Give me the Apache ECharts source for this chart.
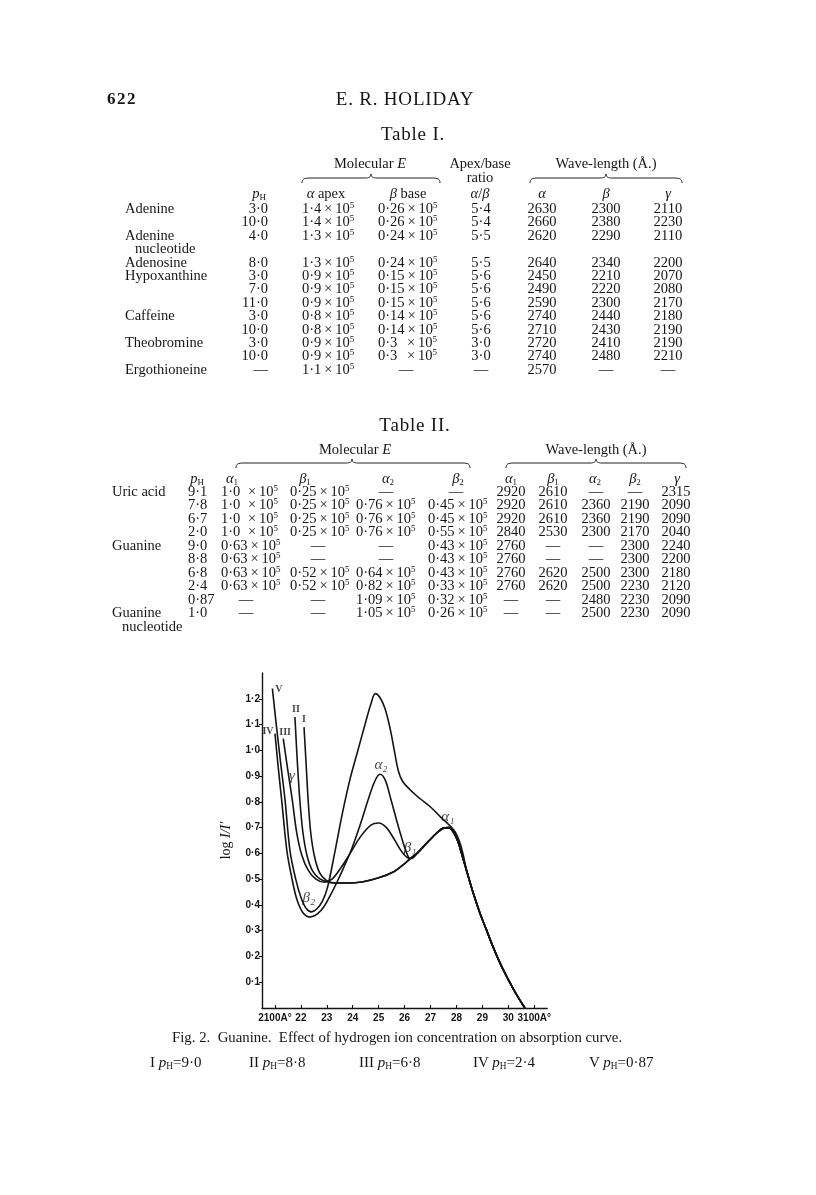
<!DOCTYPE html>
<html><head><meta charset="utf-8">
<script src="https://cdn.jsdelivr.net/npm/echarts@6.0.0/dist/echarts.min.js"></script>
<style>
html,body{margin:0;padding:0;background:#fff;}
#page{position:relative;width:816px;height:1195px;overflow:hidden;font-family:"Liberation Serif","Times New Roman",serif;color:#161616;}
#chart{position:absolute;left:0;top:0;width:816px;height:1195px;}
.t{position:absolute;white-space:nowrap;line-height:1;font-size:14.5px;}
.t sub{font-size:0.62em;vertical-align:-0.3em;line-height:0;font-style:normal;}
.t sup{font-size:0.62em;vertical-align:0.55em;line-height:0;}
.m{display:inline-block;}
svg.br{position:absolute;left:0;top:0;overflow:visible;}
</style></head>
<body><div id="page"><div id="chart"></div></div>
<script>
// ---------------- DATA ----------------
// Table I
const t1Rows = [
  ['Adenine','3·0','1·4','0·26','5·4','2630','2300','2110'],
  ['','10·0','1·4','0·26','5·4','2660','2380','2230'],
  ['Adenine','4·0','1·3','0·24','5·5','2620','2290','2110'],
  [' nucleotide'],
  ['Adenosine','8·0','1·3','0·24','5·5','2640','2340','2200'],
  ['Hypoxanthine','3·0','0·9','0·15','5·6','2450','2210','2070'],
  ['','7·0','0·9','0·15','5·6','2490','2220','2080'],
  ['','11·0','0·9','0·15','5·6','2590','2300','2170'],
  ['Caffeine','3·0','0·8','0·14','5·6','2740','2440','2180'],
  ['','10·0','0·8','0·14','5·6','2710','2430','2190'],
  ['Theobromine','3·0','0·9','0·3','3·0','2720','2410','2190'],
  ['','10·0','0·9','0·3','3·0','2740','2480','2210'],
  ['Ergothioneine','—','1·1','—','—','2570','—','—']
];
// Table II
const t2Rows = [
  ['Uric acid','9·1','1·0','0·25','—','—','2920','2610','—','—','2315'],
  ['','7·8','1·0','0·25','0·76','0·45','2920','2610','2360','2190','2090'],
  ['','6·7','1·0','0·25','0·76','0·45','2920','2610','2360','2190','2090'],
  ['','2·0','1·0','0·25','0·76','0·55','2840','2530','2300','2170','2040'],
  ['Guanine','9·0','0·63','—','—','0·43','2760','—','—','2300','2240'],
  ['','8·8','0·63','—','—','0·43','2760','—','—','2300','2200'],
  ['','6·8','0·63','0·52','0·64','0·43','2760','2620','2500','2300','2180'],
  ['','2·4','0·63','0·52','0·82','0·33','2760','2620','2500','2230','2120'],
  ['','0·87','—','—','1·09','0·32','—','—','2480','2230','2090'],
  ['Guanine','1·0','—','—','1·05','0·26','—','—','2500','2230','2090'],
  [' nucleotide']
];
// Figure axes
const xTickValues = [2100,2200,2300,2400,2500,2600,2700,2800,2900,3000,3100];
const xTickLabels = ['2100A°','22','23','24','25','26','27','28','29','30','3100A°'];
const yTickValues = [0.1,0.2,0.3,0.4,0.5,0.6,0.7,0.8,0.9,1.0,1.1,1.2];
const yTickLabels = ['0·1','0·2','0·3','0·4','0·5','0·6','0·7','0·8','0·9','1·0','1·1','1·2'];
// Figure curves: [wave-length (Å), log I/I']
const curveI_pH9_0 = [[2212,1.09],[2220,0.95],[2228,0.806],[2238,0.68],[2252,0.59],[2272,0.525],[2298,0.495],[2330,0.485],[2380,0.485],[2440,0.49],[2500,0.505],[2560,0.53],[2600,0.56],[2625,0.583]];
const curveII_pH8_8 = [[2177,1.129],[2186,0.96],[2196,0.806],[2208,0.68],[2224,0.59],[2246,0.53],[2272,0.502],[2300,0.49],[2330,0.485],[2380,0.485],[2440,0.49],[2500,0.505],[2560,0.53],[2600,0.56],[2625,0.583]];
const curveIII_pH6_8 = [[2132,1.045],[2150,0.92],[2167,0.806],[2184,0.68],[2203,0.595],[2228,0.535],[2258,0.5],[2290,0.488],[2320,0.5],[2355,0.545],[2390,0.6],[2430,0.665],[2470,0.71],[2500,0.718],[2530,0.7],[2560,0.655],[2590,0.605],[2612,0.583],[2625,0.58]];
const curveIV_pH2_4 = [[2100,1.065],[2113,0.93],[2126,0.806],[2146,0.61],[2166,0.5],[2185,0.42],[2208,0.37],[2236,0.353],[2264,0.365],[2290,0.395],[2315,0.44],[2340,0.49],[2365,0.545],[2395,0.615],[2430,0.715],[2460,0.81],[2485,0.88],[2505,0.907],[2525,0.885],[2547,0.81],[2580,0.69],[2605,0.61],[2622,0.58]];
const curveV_pH0_87 = [[2090,1.24],[2105,1.1],[2122,0.95],[2139,0.806],[2158,0.61],[2180,0.5],[2200,0.43],[2220,0.387],[2241,0.373],[2262,0.385],[2283,0.415],[2302,0.465],[2330,0.6],[2360,0.755],[2390,0.89],[2420,1.0],[2450,1.11],[2470,1.18],[2487,1.22],[2505,1.205],[2525,1.16],[2545,1.08],[2562,0.99],[2576,0.92],[2592,0.88],[2620,0.848],[2660,0.812],[2700,0.78],[2740,0.74],[2770,0.712],[2795,0.683],[2812,0.645],[2826,0.595]];
const betaToAlphaCommon = [[2650,0.602],[2690,0.645],[2725,0.68],[2750,0.698],[2770,0.7],[2790,0.68],[2806,0.645],[2822,0.592]];
const tailCommon = [[2840,0.53],[2865,0.445],[2890,0.37],[2915,0.305],[2940,0.24],[2970,0.17],[3000,0.11],[3030,0.055],[3064,0]];
const curveLabels = [
  {text:'V', at:[2115,1.238], kind:'roman'},
  {text:'IV', at:[2073,1.075], kind:'roman'},
  {text:'III', at:[2139,1.071], kind:'roman'},
  {text:'II', at:[2181,1.157], kind:'roman'},
  {text:'I', at:[2212,1.118], kind:'roman'},
  {text:'γ', at:[2166,0.90], kind:'greek'},
  {text:'α₂', at:[2509,0.943], kind:'greek'},
  {text:'β₁', at:[2621,0.62], kind:'greek'},
  {text:'α₁', at:[2767,0.74], kind:'greek'},
  {text:'β₂', at:[2231,0.427], kind:'greek'}
];
const legendItems = [['I','9·0'],['II','8·8'],['III','6·8'],['IV','2·4'],['V','0·87']];

// ---------------- TEXT LAYOUT ----------------
const page = document.getElementById('page');
function put(html, x, y, align, css){
  const d = document.createElement('div');
  d.className = 't';
  d.innerHTML = html;
  d.style.left = x + 'px';
  d.style.top = y + 'px';
  const tx = align === 'c' ? '-50%' : (align === 'r' ? '-100%' : '0');
  d.style.transform = 'translate(' + tx + ',-50%)';
  if (css) d.style.cssText += ';' + css;
  page.appendChild(d);
  return d;
}
const PH = '<i>p</i><sub>H</sub>';
function sci(m, w){
  if (m === '—') return null;
  return '<span class="m" style="min-width:' + w + 'px">' + m + '</span>&thinsp;×&thinsp;10<sup>5</sup>';
}
const svgNS = 'http://www.w3.org/2000/svg';
const svg = document.createElementNS(svgNS, 'svg');
svg.setAttribute('class','br'); svg.setAttribute('width','816'); svg.setAttribute('height','1195');
page.appendChild(svg);
function brace(x1, x2, xm, y){
  const p = document.createElementNS(svgNS, 'path');
  const d = `M${x1},${y+5} C${x1},${y+1} ${x1+2},${y} ${x1+8},${y} L${xm-6},${y} C${xm-2},${y} ${xm},${y-1} ${xm},${y-4} C${xm},${y-1} ${xm+2},${y} ${xm+6},${y} L${x2-8},${y} C${x2-2},${y} ${x2},${y+1} ${x2},${y+5}`;
  p.setAttribute('d', d); p.setAttribute('fill','none'); p.setAttribute('stroke','#222'); p.setAttribute('stroke-width','1');
  svg.appendChild(p);
}

// page header
put('622', 107, 98, 'l', 'font-size:17px;font-weight:bold;letter-spacing:1.5px');
put('E. R. HOLIDAY', 405, 98, 'c', 'font-size:19px;letter-spacing:0.8px');

// Table I
put('Table I.', 413, 133, 'c', 'font-size:19px;letter-spacing:0.8px');
put('Molecular <i>E</i>', 370, 163, 'c');
brace(302, 440, 371, 178);
put('Apex/base', 480, 163, 'c');
put('ratio', 480, 177, 'c');
put('Wave-length (Å.)', 606, 163, 'c');
brace(530, 682, 606, 178);
put(PH, 259, 193, 'c');
put('<i>α</i> apex', 326, 193, 'c');
put('<i>β</i> base', 408, 193, 'c');
put('<i>α</i>/<i>β</i>', 480, 193, 'c');
put('<i>α</i>', 542, 193, 'c');
put('<i>β</i>', 606, 193, 'c');
put('<i>γ</i>', 668, 193, 'c');
t1Rows.forEach((r, i) => {
  const y = 208 + i * 13.4;
  if (r[0]) put(r[0].trim(), r[0].startsWith(' ') ? 135 : 125, y, 'l');
  if (r.length < 2) return;
  put(r[1], 268, y, 'r');
  const a = sci(r[2], 18); if (a) put(a, 302, y, 'l'); else put('—', 326, y, 'c');
  const b = sci(r[3], 26); if (b) put(b, 378, y, 'l'); else put('—', 406, y, 'c');
  put(r[4], 481, y, 'c');
  put(r[5], 542, y, 'c');
  put(r[6], 606, y, 'c');
  put(r[7], 668, y, 'c');
});

// Table II
put('Table II.', 415, 424, 'c', 'font-size:19px;letter-spacing:0.8px');
put('Molecular <i>E</i>', 355, 449, 'c');
brace(236, 470, 352, 463);
put('Wave-length (Å.)', 596, 449, 'c');
brace(506, 686, 596, 463);
put(PH, 197, 478, 'c');
put('<i>α</i><sub>1</sub>', 232, 478, 'c');
put('<i>β</i><sub>1</sub>', 305, 478, 'c');
put('<i>α</i><sub>2</sub>', 388, 478, 'c');
put('<i>β</i><sub>2</sub>', 458, 478, 'c');
put('<i>α</i><sub>1</sub>', 511, 478, 'c');
put('<i>β</i><sub>1</sub>', 553, 478, 'c');
put('<i>α</i><sub>2</sub>', 595, 478, 'c');
put('<i>β</i><sub>2</sub>', 635, 478, 'c');
put('<i>γ</i>', 677, 478, 'c');
const t2Left = [221, 290, 356, 428];
const t2Dash = [246, 318, 386, 456];
const t2Wl = [511, 553, 596, 635, 676];
t2Rows.forEach((r, i) => {
  const y = 491 + i * 13.45;
  if (r[0]) put(r[0].trim(), r[0].startsWith(' ') ? 122 : 112, y, 'l');
  if (r.length < 2) return;
  put(r[1], 188, y, 'l');
  for (let k = 0; k < 4; k++) {
    const s = sci(r[2 + k], 24);
    if (s) put(s, t2Left[k], y, 'l'); else put('—', t2Dash[k], y, 'c');
  }
  for (let k = 0; k < 5; k++) put(r[6 + k], t2Wl[k], y, 'c');
});

// caption + legend
put('Fig. 2.&nbsp; Guanine.&nbsp; Effect of hydrogen ion concentration on absorption curve.', 172, 1037, 'l', 'font-size:14.8px');
const legendX = [150, 249, 359, 473, 589];
legendItems.forEach((it, i) => {
  put(it[0] + ' ' + PH + '=' + it[1], legendX[i], 1062, 'l', 'font-size:15px');
});

// ---------------- CHART ----------------
const chart = echarts.init(document.getElementById('chart'), null, {renderer:'canvas', width:816, height:1195});
const INK = '#141414';
const curves = [
  {name:'I', data: curveI_pH9_0.concat(betaToAlphaCommon, tailCommon)},
  {name:'II', data: curveII_pH8_8.concat(betaToAlphaCommon, tailCommon)},
  {name:'III', data: curveIII_pH6_8.concat(betaToAlphaCommon, tailCommon)},
  {name:'IV', data: curveIV_pH2_4.concat(betaToAlphaCommon, tailCommon)},
  {name:'V', data: curveV_pH0_87.concat(tailCommon)}
];
const series = curves.map(c => ({
  type:'line', name:c.name, data:c.data, showSymbol:false, symbol:'none',
  smooth:0.35, silent:true, lineStyle:{color:INK, width:1.6}
}));
series.push({
  type:'scatter', silent:true, symbolSize:0,
  data: curveLabels.map(l => ({
    name:l.text, value:l.at,
    label: l.kind === 'roman'
      ? {fontFamily:'Liberation Serif', fontSize:10, fontWeight:'bold', color:INK}
      : {fontFamily:'Liberation Serif', fontStyle:'italic', fontSize:15, color:INK}
  })),
  label:{show:true, position:'inside', formatter:'{b}'}
});
function lookup(vals, labels, v){
  const i = vals.findIndex(t => Math.abs(t - v) < 1e-6);
  return i < 0 ? '' : labels[i];
}
chart.setOption({
  animation:false,
  backgroundColor:'transparent',
  grid:{left:262, top:673, width:285.2, height:335, containLabel:false, outerBoundsMode:'none'},
  xAxis:{
    type:'value', min:2050, max:3150,
    axisLine:{show:true, onZero:false, lineStyle:{color:INK, width:1.4}},
    axisTick:{show:true, inside:true, length:3, customValues:xTickValues, lineStyle:{color:INK, width:1.1}},
    axisLabel:{customValues:xTickValues, formatter:v => lookup(xTickValues, xTickLabels, v),
      fontFamily:'Liberation Sans', fontSize:10, fontWeight:'bold', color:INK, margin:5},
    splitLine:{show:false}
  },
  yAxis:{
    type:'value', min:0, max:1.3,
    axisLine:{show:true, onZero:false, lineStyle:{color:INK, width:1.4}},
    axisTick:{show:true, inside:false, length:3, customValues:yTickValues, lineStyle:{color:INK, width:1.1}},
    axisLabel:{customValues:yTickValues, formatter:v => lookup(yTickValues, yTickLabels, v),
      fontFamily:'Liberation Sans', fontSize:10, fontWeight:'bold', color:INK, margin:2},
    splitLine:{show:false},
    name:'{r|log }{i|I/I′}', nameLocation:'middle', nameGap:29, nameRotate:90,
    nameTextStyle:{rich:{
      r:{fontFamily:'Liberation Serif', fontSize:14, color:INK},
      i:{fontFamily:'Liberation Serif', fontStyle:'italic', fontSize:14, color:INK}
    }}
  },
  series: series
});
</script>
</body></html>
